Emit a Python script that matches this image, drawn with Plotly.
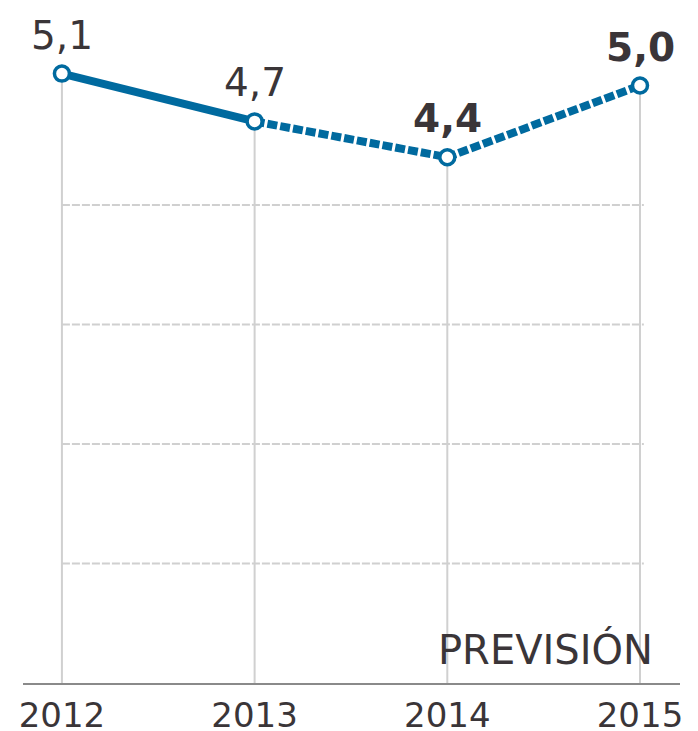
import plotly.graph_objects as go

years = [2012, 2013, 2014, 2015]
values = [5.1, 4.7, 4.4, 5.0]
bold = [False, False, True, True]
grid_levels = [1, 2, 3, 4]
note = "PREVISIÓN"

BLUE = "#006a9f"
TXT = "#3a3538"
GRID = "#d0d0d0"
FONT = "DejaVu Sans, Arial, sans-serif"

fig = go.Figure()

# drop lines from each point to the baseline
fig.add_trace(go.Scatter(
    x=years, y=values, mode="markers",
    marker=dict(size=0.1, color="rgba(0,0,0,0)"),
    error_y=dict(type="data", symmetric=False, array=[0] * len(values),
                 arrayminus=values, color=GRID, thickness=2, width=0),
    hoverinfo="skip", showlegend=False,
))

# solid part (observed)
fig.add_trace(go.Scatter(
    x=years[:2], y=values[:2], mode="lines",
    line=dict(color=BLUE, width=8), showlegend=False,
))
# dashed part (forecast)
fig.add_trace(go.Scatter(
    x=years[1:], y=values[1:], mode="lines",
    line=dict(color=BLUE, width=8, dash="10px,3px"), showlegend=False,
))
# markers
fig.add_trace(go.Scatter(
    x=years, y=values, mode="markers",
    marker=dict(size=15, color="white", line=dict(color=BLUE, width=3.5)),
    showlegend=False,
))

# horizontal dashed gridlines from first to last year
for g in grid_levels:
    fig.add_shape(type="line", xref="x", yref="y",
                  x0=years[0], x1=years[-1] + 0.02, y0=g, y1=g,
                  line=dict(color=GRID, width=2, dash="8px,2px"), layer="below")

# value labels
for x, v, b in zip(years, values, bold):
    label = f"{v:.1f}".replace(".", ",")
    if b:
        label = f"<b>{label}</b>"
    fig.add_annotation(x=x, y=v, text=label, showarrow=False,
                       yanchor="bottom", yshift=14,
                       font=dict(family=FONT, size=39, color=TXT))

fig.add_annotation(x=years[-1] + 0.08, y=0.07, xref="x", yref="y",
                   text=note, showarrow=False, xanchor="right", yanchor="bottom",
                   font=dict(family=FONT, size=40, color=TXT))

fig.update_layout(
    width=690, height=723,
    margin=dict(l=15, r=18, t=0, b=48),
    paper_bgcolor="white", plot_bgcolor="white",
    xaxis=dict(range=[2011.798, 2015.2076], tickvals=years,
               ticktext=[str(y) for y in years],
               showgrid=False, zeroline=False, automargin=False,
               showline=True, linecolor="#8a8a8a", linewidth=2,
               ticks="", ticklabelstandoff=1,
               tickfont=dict(family=FONT, size=34, color=TXT)),
    yaxis=dict(range=[0, 5.649], showgrid=False, zeroline=False,
               showticklabels=False, showline=False, automargin=False),
)

fig.write_html("out.html")
